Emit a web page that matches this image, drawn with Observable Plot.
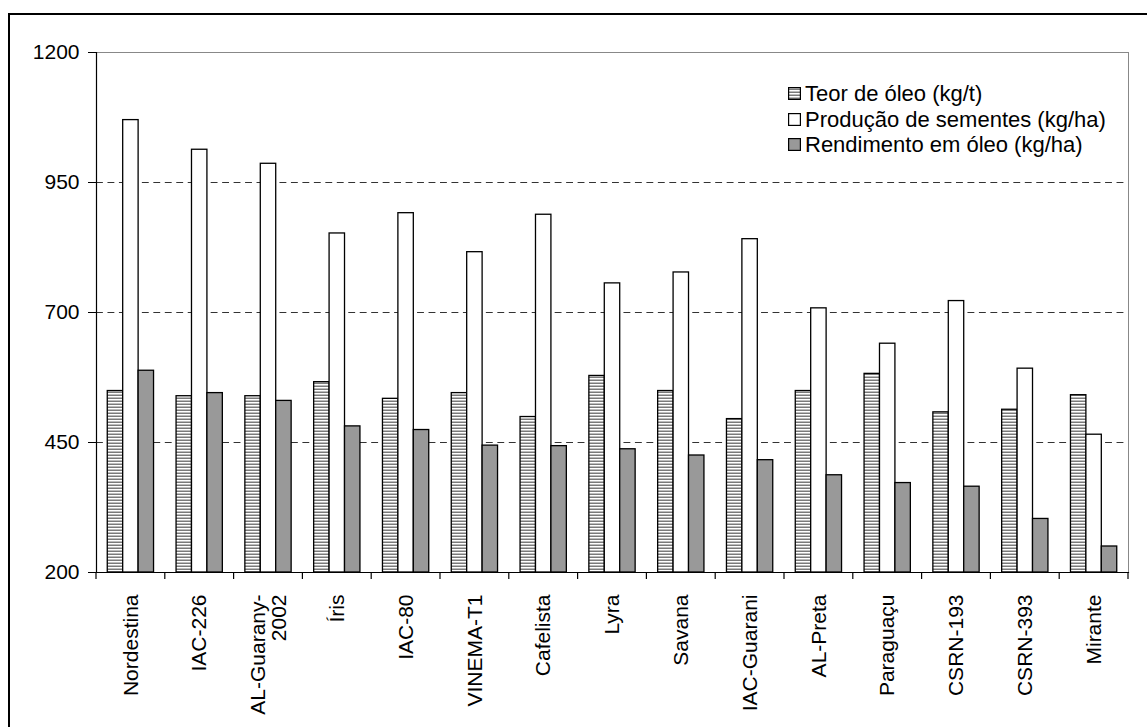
<!DOCTYPE html>
<html>
<head>
<meta charset="utf-8">
<script src="https://cdn.jsdelivr.net/npm/d3@7"></script>
<script src="https://cdn.jsdelivr.net/npm/@observablehq/plot@0.6"></script>
<style>
  html, body { margin: 0; padding: 0; background: #fff; overflow: hidden; }
  body { width: 1147px; height: 727px; position: relative; font-family: "Liberation Sans", Arial, sans-serif; }
  #border { position: absolute; left: 8px; top: 13px; width: 1200px; height: 800px; border-style: solid; border-color: #000; border-width: 2px 0 0 2px; box-sizing: border-box; pointer-events: none; }
  #chart { position: absolute; left: 0; top: 0; }
  #legend { position: absolute; left: 788px; top: 81px; font-size: 22px; line-height: 25.5px; color: #000; }
  #legend .item { display: flex; align-items: center; height: 25.5px; white-space: nowrap; }
  #legend svg { margin-right: 4px; }
</style>
</head>
<body>
<svg width="0" height="0" style="position:absolute">
  <defs>
    <pattern id="hatch" patternUnits="userSpaceOnUse" width="6" height="3">
      <rect width="6" height="3" fill="#fff"></rect>
      <rect y="1.5" width="6" height="1.5" fill="#7a7a7a"></rect>
    </pattern>
  </defs>
</svg>
<div id="chart"></div>
<div id="legend"></div>
<div id="border"></div>
<script>
const categories = ["Nordestina", "IAC-226", "AL-Guarany-\n2002", "Íris", "IAC-80", "VINEMA-T1", "Cafelista", "Lyra", "Savana", "IAC-Guarani", "AL-Preta", "Paraguaçu", "CSRN-193", "CSRN-393", "Mirante"];
const teorOleo   = [549, 539, 539, 566, 534, 545, 499, 578, 549, 495, 549, 582, 508, 513, 541];
const producao   = [1070, 1013, 986, 852, 891, 816, 888, 756, 777, 841, 708, 640, 722, 592, 465];
const rendimento = [588, 545, 530, 481, 474, 444, 443, 437, 425, 416, 387, 372, 365, 303, 250];
const seriesNames = ["Teor de óleo (kg/t)", "Produção de sementes (kg/ha)", "Rendimento em óleo (kg/ha)"];
const seriesFills = ["url(#hatch)", "#ffffff", "#999999"];
const yDomain = [200, 1200];
const yTicks = [200, 450, 700, 950, 1200];
const gridValues = [450, 700, 950];

const seriesValues = [teorOleo, producao, rendimento];
const data = categories.flatMap((c, i) => seriesNames.map((s, k) => ({cat: c, serie: s, value: seriesValues[k][i]})));

const W = 1147, ML = 96, MR = 19;
const step = (W - ML - MR) / categories.length;
const dashPeriod = step / 6;

const chart = Plot.plot({
  width: W,
  height: 727,
  marginLeft: ML,
  marginRight: MR,
  marginTop: 52,
  marginBottom: 155,
  style: {fontFamily: "'Liberation Sans', Arial, sans-serif", fontSize: "21px", color: "#000", background: "transparent", overflow: "visible"},
  fx: {domain: categories, paddingInner: 0, paddingOuter: 0, round: false, label: null},
  x: {domain: seriesNames, paddingInner: 0, paddingOuter: 0.73, round: false, axis: null},
  y: {domain: yDomain, label: null},
  color: {domain: seriesNames, range: seriesFills},
  marks: [
    Plot.frame({stroke: "#888", strokeWidth: 1, facet: "super"}),
    Plot.gridY(gridValues, {stroke: "#333", strokeOpacity: 1, strokeWidth: 1, strokeDasharray: `${dashPeriod * 0.6},${dashPeriod * 0.4}`}),
    Plot.barY(data, {fx: "cat", x: "serie", y1: () => yDomain[0], y2: "value", fill: "serie", stroke: "#000", strokeWidth: 1.3}),
    Plot.frame({anchor: "left", stroke: "#000", strokeWidth: 1.2, facet: "super"}),
    Plot.frame({anchor: "bottom", stroke: "#000", strokeWidth: 1.2, facet: "super"}),
    Plot.axisY({ticks: yTicks, tickFormat: d => String(d), tickSize: 8, tickPadding: 9, stroke: "#000", fontSize: 21, label: null}),
    Plot.axisFx({anchor: "bottom", tickSize: 0, tickPadding: 22, tickRotate: -90, fontSize: 21, label: null})
  ]
});
document.getElementById("chart").appendChild(chart);

// boundary ticks between category groups, placed with the fx scale
const fx = chart.scale("fx");
const yS = chart.scale("y");
const svg = d3.select(chart.tagName.toLowerCase() === "svg" ? chart : chart.querySelector("svg"));
const yBase = yS.apply(yDomain[0]);
const bounds = categories.map(c => fx.apply(c)).concat([fx.apply(categories[categories.length - 1]) + fx.bandwidth]);
svg.append("g").attr("stroke", "#000").attr("stroke-width", 1.2)
  .selectAll("line").data(bounds).join("line")
  .attr("x1", d => d).attr("x2", d => d)
  .attr("y1", yBase).attr("y2", yBase + 7);

// legend
const legend = d3.select("#legend");
seriesNames.forEach((s, k) => {
  const item = legend.append("div").attr("class", "item");
  const sw = item.append("svg").attr("width", 13).attr("height", 13);
  sw.append("rect").attr("x", 0.6).attr("y", 0.6).attr("width", 11.8).attr("height", 11.8)
    .attr("fill", seriesFills[k]).attr("stroke", "#000").attr("stroke-width", 1.2);
  item.append("span").text(s);
});
</script>
</body>
</html>
